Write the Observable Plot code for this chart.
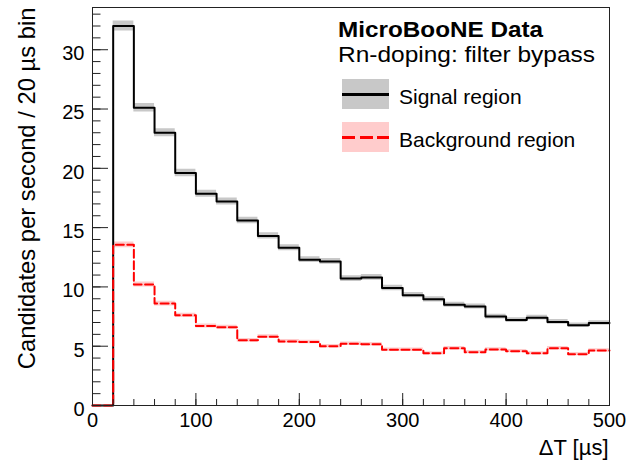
<!DOCTYPE html>
<html>
<head>
<meta charset="utf-8">
<script src="https://cdn.jsdelivr.net/npm/d3@7"></script>
<script src="https://cdn.jsdelivr.net/npm/@observablehq/plot@0.6"></script>
<style>
  html, body { margin: 0; padding: 0; background: #fff; }
  #wrap { position: relative; width: 641px; height: 468px; font-family: "Liberation Sans", Arial, Helvetica, sans-serif; }
  #wrap svg { position: absolute; left: 0; top: 0; }
  .lg { position: absolute; white-space: nowrap; line-height: 20px; color: #000; }
  .title { font-size: 22px; transform-origin: 0 0; }
  .entry { font-size: 21px; line-height: 21px; }
  .box { position: absolute; width: 47px; height: 30px; }
</style>
</head>
<body>
<div id="wrap"></div>
<script>
// Bin starts (µs), 20 µs bins
const binStart = [0, 20, 40, 60, 80, 100, 120, 140, 160, 180, 200, 220, 240, 260, 280, 300, 320, 340, 360, 380, 400, 420, 440, 460, 480];
const binEnd = 500;
// Signal region (candidates per second / 20 µs bin)
const signal = [0, 32.0, 25.1, 23.0, 19.6, 17.85, 17.2, 15.6, 14.3, 13.3, 12.3, 12.15, 10.7, 10.8, 9.9, 9.3, 8.95, 8.5, 8.35, 7.5, 7.2, 7.4, 7.05, 6.77, 6.95];
const signalErr = [0, 0.42, 0.36, 0.34, 0.32, 0.3, 0.29, 0.28, 0.27, 0.26, 0.25, 0.25, 0.24, 0.24, 0.23, 0.22, 0.22, 0.21, 0.21, 0.2, 0.2, 0.2, 0.2, 0.19, 0.19];
// Background region
const background = [0, 13.55, 10.2, 8.6, 7.6, 6.7, 6.6, 5.5, 5.8, 5.4, 5.35, 5.0, 5.2, 5.17, 4.7, 4.7, 4.4, 4.83, 4.5, 4.72, 4.58, 4.4, 4.83, 4.33, 4.64];
const backgroundErr = [0, 0.24, 0.21, 0.2, 0.18, 0.17, 0.17, 0.16, 0.16, 0.16, 0.15, 0.15, 0.15, 0.15, 0.14, 0.14, 0.14, 0.14, 0.14, 0.14, 0.14, 0.14, 0.14, 0.13, 0.14];
// Axis ticks
const xMajor = [0, 100, 200, 300, 400, 500];
const xMinor = [0, 20, 40, 60, 80, 100, 120, 140, 160, 180, 200, 220, 240, 260, 280, 300, 320, 340, 360, 380, 400, 420, 440, 460, 480, 500];
const yMajor = [0, 5, 10, 15, 20, 25, 30];
const yMinor = [0, 1, 2, 3, 4, 5, 6, 7, 8, 9, 10, 11, 12, 13, 14, 15, 16, 17, 18, 19, 20, 21, 22, 23, 24, 25, 26, 27, 28, 29, 30, 31, 32, 33];
const yDomain = [0, 33.56];
const xLabel = "ΔT [µs]";
const yLabel = "Candidates per second / 20 µs bin";
const legendTitle = "MicroBooNE Data";
const legendSubtitle = "Rn-doping: filter bypass";
const seriesNames = ["Signal region", "Background region"];

function steps(vals, errs) {
  const pts = binStart.map((x, i) => ({x, y: vals[i], lo: vals[i] - errs[i], hi: vals[i] + errs[i]}));
  const last = pts[pts.length - 1];
  pts.push({x: binEnd, y: last.y, lo: last.lo, hi: last.hi});
  return pts;
}
const sigPts = steps(signal, signalErr);
const bkgPts = steps(background, backgroundErr);

const W = 641, H = 468, mL = 92, mR = 32, mT = 7, mB = 63;
const innerW = W - mL - mR, innerH = H - mT - mB;

const chart = Plot.plot({
  width: W, height: H,
  marginLeft: mL, marginRight: mR, marginTop: mT, marginBottom: mB,
  style: {fontFamily: "'Liberation Sans', Arial, Helvetica, sans-serif", fontSize: "20px", background: "transparent", overflow: "visible", color: "#000"},
  x: {domain: [0, binEnd], axis: null},
  y: {domain: yDomain, axis: null},
  marks: [
    Plot.areaY(sigPts, {x: "x", y1: "lo", y2: "hi", curve: "step-after", fill: "#c8c8c8"}),
    Plot.areaY(bkgPts, {x: "x", y1: "lo", y2: "hi", curve: "step-after", fill: "#ffcccc"}),
    Plot.line(sigPts, {x: "x", y: "y", curve: "step-after", stroke: "#000", strokeWidth: 2}),
    Plot.line(bkgPts, {x: "x", y: "y", curve: "step-after", stroke: "#ff0000", strokeWidth: 2, strokeDasharray: "8,3.5"}),
    Plot.frame({stroke: "#222", strokeWidth: 1}),
    // inward ticks: y on left edge pointing right
    Plot.axisY(yMajor, {anchor: "right", dx: -innerW, tickSize: 15, tickFormat: () => "", label: null, stroke: "#222"}),
    Plot.axisY(yMinor, {anchor: "right", dx: -innerW, tickSize: 7.5, tickFormat: () => "", label: null, stroke: "#222"}),
    // inward ticks: x on bottom edge pointing up
    Plot.axisX(xMajor, {anchor: "top", dy: innerH, tickSize: 13, tickFormat: () => "", label: null, stroke: "#222"}),
    Plot.axisX(xMinor, {anchor: "top", dy: innerH, tickSize: 7, tickFormat: () => "", label: null, stroke: "#222"}),
    // tick labels
    Plot.axisY(yMajor, {anchor: "left", tickSize: 0, tickPadding: 8, dy: 4, fontSize: 20, label: null}),
    Plot.axisX(xMajor, {anchor: "bottom", tickSize: 0, tickPadding: 7, fontSize: 20, label: null}),
    // axis titles
    Plot.text([yLabel], {text: d => d, frameAnchor: "top-left", dx: -65, rotate: -90, textAnchor: "end", lineAnchor: "middle", fontSize: 23.8}),
    Plot.text([xLabel], {text: d => d, frameAnchor: "bottom-right", dx: -1, dy: 42, textAnchor: "end", lineAnchor: "middle", fontSize: 22})
  ]
});

const wrap = document.getElementById("wrap");
wrap.appendChild(chart);

// Legend (HTML overlay)
function addDiv(cls, text, left, top, extra) {
  const d = document.createElement("div");
  d.className = cls;
  if (text != null) d.textContent = text;
  d.style.left = left + "px";
  d.style.top = top + "px";
  if (extra) Object.assign(d.style, extra);
  wrap.appendChild(d);
  return d;
}
addDiv("lg title", legendTitle, 338, 20, {fontWeight: "bold", transform: "scaleX(1.104)"});
addDiv("lg title", legendSubtitle, 338, 45, {transform: "scaleX(1.112)"});
addDiv("box", null, 342, 79, {background: "#c8c8c8"});
addDiv("box", null, 342, 93, {height: "3px", background: "#000"});
addDiv("lg entry", seriesNames[0], 399, 86);
addDiv("box", null, 342, 122, {background: "#ffcccc"});
addDiv("box", null, 342, 136, {height: "3px", background: "repeating-linear-gradient(to right, #ff0000 0 13px, transparent 13px 17.5px)"});
addDiv("lg entry", seriesNames[1], 399, 129);
</script>
</body>
</html>
